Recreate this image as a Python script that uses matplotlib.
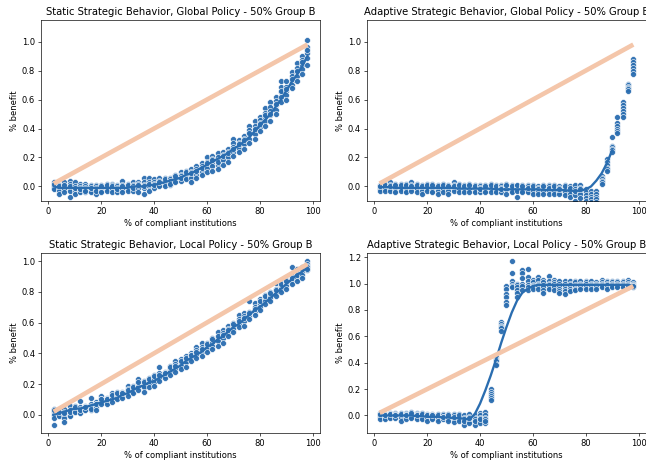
import numpy as np
import matplotlib.pyplot as plt

x_vals = list(range(2, 100, 2))

# diagonal reference line (equal benefit)
diag_x = [2, 98]
diag_y = [0.02, 0.98]

# --- Static, Global ---
sg_pts = [
    [0.03, 0.01, 0.0, -0.01, -0.02, 0.02], [0.01, -0.01, -0.02, -0.03, -0.05, 0.0],
    [0.03, 0.0, -0.01, -0.02, -0.04, 0.01], [0.04, 0.02, -0.01, -0.03, -0.07, 0.0],
    [0.03, 0.0, -0.02, -0.03, -0.05, -0.01], [0.02, 0.0, -0.01, -0.03, -0.04, -0.02],
    [0.02, 0.0, -0.01, -0.02, -0.04, -0.03], [0.01, 0.0, -0.02, -0.03, -0.04, -0.01],
    [0.01, 0.0, -0.01, -0.02, -0.05, -0.03], [0.01, -0.01, -0.02, -0.03, -0.04, 0.0],
    [0.02, 0.0, -0.01, -0.02, -0.03, 0.01], [0.02, 0.01, -0.01, -0.02, -0.04, 0.0],
    [0.01, 0.0, -0.01, -0.03, -0.04, -0.02], [0.04, 0.01, -0.01, -0.02, -0.04, 0.0],
    [0.02, 0.0, -0.01, -0.02, -0.03, 0.01], [0.03, 0.01, 0.0, -0.02, -0.03, -0.01],
    [0.03, 0.02, 0.0, -0.01, -0.04, 0.01], [0.06, 0.03, 0.01, -0.01, -0.05, 0.0],
    [0.06, 0.03, 0.01, 0.0, -0.03, 0.02], [0.05, 0.03, 0.02, 0.0, -0.01, 0.01],
    [0.06, 0.04, 0.02, 0.01, 0.0, 0.03], [0.06, 0.04, 0.03, 0.02, 0.0, 0.05],
    [0.06, 0.05, 0.03, 0.01, 0.04, 0.02], [0.08, 0.06, 0.05, 0.04, 0.03, 0.07],
    [0.1, 0.08, 0.07, 0.05, 0.04, 0.06], [0.11, 0.09, 0.08, 0.06, 0.05, 0.1],
    [0.12, 0.1, 0.08, 0.06, 0.03, 0.09], [0.14, 0.12, 0.1, 0.08, 0.06, 0.11],
    [0.16, 0.14, 0.12, 0.1, 0.08, 0.13], [0.2, 0.17, 0.15, 0.13, 0.1, 0.16],
    [0.21, 0.19, 0.16, 0.14, 0.11, 0.18], [0.23, 0.2, 0.18, 0.15, 0.12, 0.17],
    [0.24, 0.22, 0.2, 0.18, 0.15, 0.21], [0.26, 0.24, 0.22, 0.2, 0.17, 0.23],
    [0.33, 0.3, 0.27, 0.24, 0.21, 0.26], [0.32, 0.3, 0.28, 0.26, 0.24, 0.29],
    [0.35, 0.33, 0.31, 0.29, 0.26, 0.32], [0.42, 0.39, 0.36, 0.33, 0.3, 0.37],
    [0.45, 0.42, 0.39, 0.36, 0.33, 0.4], [0.48, 0.46, 0.44, 0.41, 0.38, 0.43],
    [0.54, 0.51, 0.48, 0.45, 0.42, 0.49], [0.58, 0.55, 0.52, 0.49, 0.45, 0.5],
    [0.62, 0.59, 0.56, 0.53, 0.5, 0.57], [0.73, 0.69, 0.65, 0.62, 0.58, 0.66],
    [0.73, 0.69, 0.66, 0.63, 0.6, 0.67], [0.79, 0.76, 0.73, 0.7, 0.68, 0.74],
    [0.85, 0.82, 0.79, 0.76, 0.73, 0.8], [0.9, 0.87, 0.84, 0.81, 0.78, 0.86],
    [1.01, 0.96, 0.92, 0.89, 0.84, 0.94],
]
sg_fit = [0.0, -0.01, -0.01, -0.01, -0.01, -0.01, -0.01, -0.01, -0.01, -0.01,
          -0.01, -0.01, -0.01, -0.01, -0.01, 0.0, 0.0, 0.0, 0.01, 0.01,
          0.02, 0.03, 0.04, 0.05, 0.06, 0.08, 0.09, 0.11, 0.13, 0.15,
          0.17, 0.19, 0.21, 0.23, 0.26, 0.28, 0.31, 0.34, 0.38, 0.42,
          0.46, 0.5, 0.55, 0.6, 0.66, 0.72, 0.77, 0.83, 0.9]

# --- Adaptive, Global ---
ag_pts = [
    [0.01, 0.0, -0.01, -0.02, -0.03, 0.0], [0.02, 0.0, -0.01, -0.02, -0.03, 0.01],
    [0.03, 0.01, -0.01, -0.02, -0.03, 0.0], [0.02, 0.0, -0.01, -0.03, -0.04, 0.01],
    [0.02, 0.0, -0.01, -0.02, -0.03, 0.01], [0.02, 0.0, -0.02, -0.03, -0.04, 0.01],
    [0.03, 0.01, -0.01, -0.02, -0.03, 0.0], [0.02, 0.0, -0.01, -0.02, -0.04, 0.01],
    [0.01, -0.01, -0.02, -0.03, -0.05, 0.0], [0.02, 0.0, -0.01, -0.02, -0.03, 0.01],
    [0.02, 0.0, -0.01, -0.03, -0.04, 0.01], [0.01, -0.01, -0.02, -0.03, -0.05, 0.0],
    [0.02, 0.0, -0.01, -0.02, -0.04, 0.01], [0.01, -0.01, -0.02, -0.03, -0.05, 0.0],
    [0.03, 0.01, -0.01, -0.02, -0.03, 0.0], [0.02, 0.0, -0.01, -0.02, -0.04, 0.01],
    [0.01, -0.01, -0.02, -0.03, -0.04, 0.0], [0.02, 0.0, -0.01, -0.02, -0.04, 0.01],
    [0.01, -0.01, -0.02, -0.03, -0.04, 0.0], [0.01, 0.0, -0.01, -0.03, -0.04, -0.02],
    [0.01, -0.01, -0.02, -0.03, -0.04, 0.0], [0.02, 0.0, -0.01, -0.02, -0.04, 0.01],
    [0.01, -0.01, -0.02, -0.03, -0.04, 0.0], [0.01, 0.0, -0.01, -0.03, -0.04, -0.02],
    [0.02, 0.0, -0.01, -0.02, -0.05, 0.01], [0.01, -0.01, -0.02, -0.03, -0.04, 0.0],
    [0.0, -0.01, -0.02, -0.03, -0.07, 0.01], [0.01, -0.01, -0.02, -0.03, -0.04, 0.0],
    [0.01, 0.0, -0.02, -0.03, -0.04, -0.01], [0.01, -0.01, -0.02, -0.03, -0.05, 0.0],
    [0.0, -0.01, -0.02, -0.03, -0.04, -0.05], [0.01, -0.01, -0.02, -0.03, -0.05, 0.0],
    [0.01, 0.0, -0.02, -0.03, -0.05, -0.01], [0.01, -0.01, -0.02, -0.04, -0.05, 0.0],
    [0.0, -0.01, -0.03, -0.04, -0.05, -0.02], [0.01, -0.01, -0.02, -0.04, -0.06, 0.0],
    [0.0, -0.02, -0.03, -0.05, -0.07, -0.01], [0.01, -0.02, -0.04, -0.06, -0.1, -0.03],
    [0.01, -0.01, -0.03, -0.05, -0.08, -0.02], [-0.02, -0.04, -0.06, -0.08, -0.1, -0.12],
    [-0.03, -0.05, -0.07, -0.09, -0.11, -0.13], [-0.03, -0.05, -0.07, -0.09, -0.11, -0.13],
    [0.07, 0.06, 0.05, 0.04, 0.03, 0.02], [0.19, 0.17, 0.15, 0.13, 0.12, 0.11],
    [0.34, 0.28, 0.27, 0.26, 0.25, 0.24], [0.48, 0.44, 0.42, 0.4, 0.38, 0.37],
    [0.58, 0.56, 0.54, 0.52, 0.5, 0.48], [0.71, 0.7, 0.69, 0.68, 0.67, 0.66],
    [0.88, 0.86, 0.84, 0.82, 0.8, 0.78],
]
ag_fit = [-0.005, -0.005, -0.005, -0.01, -0.01, -0.01, -0.01, -0.01, -0.01, -0.01,
          -0.01, -0.01, -0.01, -0.01, -0.01, -0.015, -0.015, -0.015, -0.015, -0.015,
          -0.015, -0.015, -0.02, -0.02, -0.02, -0.02, -0.02, -0.02, -0.02, -0.02,
          -0.02, -0.025, -0.025, -0.025, -0.025, -0.025, -0.03, -0.03, -0.03, -0.02,
          0.0, 0.04, 0.09, 0.16, 0.25, np.nan, np.nan, np.nan, np.nan]

# --- Static, Local ---
sl_pts = [
    [0.04, 0.02, 0.0, -0.02, -0.065, 0.03], [0.03, 0.02, 0.01, 0.0, -0.01, 0.02],
    [0.04, 0.02, 0.0, -0.02, -0.05, 0.01], [0.06, 0.03, 0.01, 0.0, -0.01, 0.02],
    [0.06, 0.04, 0.03, 0.02, 0.02, 0.05], [0.09, 0.05, 0.04, 0.02, 0.01, 0.03],
    [0.06, 0.05, 0.04, 0.03, 0.03, 0.05], [0.11, 0.07, 0.06, 0.05, 0.03, 0.04],
    [0.08, 0.07, 0.06, 0.05, 0.03, 0.07], [0.12, 0.1, 0.09, 0.08, 0.07, 0.1],
    [0.11, 0.1, 0.09, 0.08, 0.07, 0.1], [0.14, 0.12, 0.11, 0.1, 0.08, 0.13],
    [0.15, 0.13, 0.12, 0.11, 0.1, 0.14], [0.15, 0.14, 0.13, 0.12, 0.11, 0.14],
    [0.19, 0.17, 0.15, 0.14, 0.12, 0.16], [0.19, 0.17, 0.16, 0.15, 0.14, 0.18],
    [0.23, 0.2, 0.19, 0.18, 0.16, 0.21], [0.22, 0.2, 0.19, 0.18, 0.15, 0.21],
    [0.24, 0.22, 0.21, 0.2, 0.18, 0.23], [0.26, 0.24, 0.23, 0.21, 0.19, 0.25],
    [0.31, 0.27, 0.25, 0.24, 0.22, 0.26], [0.28, 0.27, 0.26, 0.25, 0.24, 0.27],
    [0.32, 0.3, 0.29, 0.28, 0.26, 0.31], [0.35, 0.33, 0.31, 0.3, 0.28, 0.32],
    [0.36, 0.34, 0.33, 0.32, 0.3, 0.35], [0.38, 0.36, 0.35, 0.34, 0.31, 0.37],
    [0.4, 0.39, 0.38, 0.37, 0.35, 0.39], [0.44, 0.42, 0.4, 0.39, 0.37, 0.41],
    [0.47, 0.44, 0.42, 0.41, 0.38, 0.43], [0.47, 0.45, 0.44, 0.43, 0.41, 0.46],
    [0.5, 0.48, 0.47, 0.45, 0.43, 0.49], [0.54, 0.5, 0.49, 0.48, 0.45, 0.51],
    [0.55, 0.53, 0.51, 0.5, 0.47, 0.52], [0.58, 0.56, 0.54, 0.53, 0.51, 0.55],
    [0.6, 0.58, 0.57, 0.56, 0.54, 0.59], [0.65, 0.62, 0.6, 0.59, 0.57, 0.61],
    [0.66, 0.64, 0.62, 0.61, 0.58, 0.63], [0.74, 0.67, 0.65, 0.64, 0.62, 0.66],
    [0.73, 0.7, 0.68, 0.67, 0.65, 0.69], [0.75, 0.73, 0.72, 0.7, 0.68, 0.74],
    [0.78, 0.76, 0.75, 0.74, 0.72, 0.77], [0.8, 0.78, 0.77, 0.76, 0.74, 0.79],
    [0.86, 0.82, 0.8, 0.79, 0.77, 0.81], [0.86, 0.84, 0.83, 0.82, 0.8, 0.85],
    [0.88, 0.86, 0.85, 0.84, 0.82, 0.87], [0.96, 0.9, 0.88, 0.87, 0.85, 0.89],
    [0.95, 0.92, 0.9, 0.89, 0.87, 0.91], [0.96, 0.94, 0.93, 0.91, 0.89, 0.95],
    [1.0, 0.98, 0.97, 0.96, 0.94, 0.95],
]
sl_fit = [0.0, 0.01, 0.02, 0.03, 0.04, 0.04, 0.05, 0.06, 0.07, 0.08,
          0.09, 0.1, 0.11, 0.13, 0.14, 0.16, 0.18, 0.19, 0.21, 0.22,
          0.24, 0.26, 0.28, 0.3, 0.32, 0.35, 0.37, 0.39, 0.41, 0.44,
          0.46, 0.49, 0.51, 0.54, 0.57, 0.59, 0.62, 0.65, 0.68, 0.7,
          0.73, 0.76, 0.79, 0.82, 0.85, 0.88, 0.91, 0.93, 0.96]

# --- Adaptive, Local ---
al_pts = [
    [0.02, 0.01, 0.0, -0.01, -0.03, 0.01], [0.01, 0.0, -0.01, -0.02, -0.03, 0.0],
    [0.02, 0.01, 0.0, -0.01, -0.02, 0.01], [0.02, 0.01, 0.0, -0.01, -0.02, 0.0],
    [0.02, 0.0, -0.01, -0.02, -0.04, 0.01], [0.02, 0.01, 0.0, -0.01, -0.03, 0.0],
    [0.03, 0.01, 0.0, -0.01, -0.02, 0.02], [0.02, 0.01, 0.0, -0.01, -0.03, 0.0],
    [0.02, 0.0, -0.01, -0.02, -0.03, 0.01], [0.01, 0.0, -0.01, -0.02, -0.04, 0.0],
    [0.01, 0.0, -0.01, -0.02, -0.03, 0.0], [0.01, -0.01, -0.02, -0.03, -0.04, 0.0],
    [0.01, 0.0, -0.01, -0.02, -0.03, -0.01], [0.01, -0.01, -0.02, -0.03, -0.04, 0.0],
    [0.01, 0.0, -0.02, -0.03, -0.05, -0.01], [0.01, -0.01, -0.02, -0.03, -0.04, 0.0],
    [0.0, -0.02, -0.03, -0.05, -0.07, -0.04], [0.01, -0.01, -0.03, -0.04, -0.06, -0.02],
    [0.0, -0.02, -0.03, -0.05, -0.07, -0.04], [0.02, 0.0, -0.02, -0.04, -0.06, -0.03],
    [0.03, 0.0, -0.02, -0.03, -0.06, -0.04], [0.2, 0.18, 0.16, 0.15, 0.13, 0.12],
    [0.44, 0.43, 0.42, 0.41, 0.39, 0.38], [0.71, 0.69, 0.68, 0.67, 0.66, 0.64],
    [0.98, 0.96, 0.92, 0.9, 0.86, 0.84], [1.17, 1.08, 1.02, 1.0, 0.98, 0.97],
    [1.0, 0.99, 0.97, 0.95, 0.93, 0.9], [1.1, 1.08, 1.04, 1.0, 0.98, 0.95],
    [1.11, 1.05, 1.02, 0.99, 0.97, 0.95], [1.03, 1.01, 0.99, 0.98, 0.97, 0.96],
    [1.05, 1.03, 1.0, 0.99, 0.98, 0.96], [1.03, 1.01, 0.99, 0.97, 0.95, 0.93],
    [1.06, 1.02, 1.0, 0.99, 0.97, 0.96], [1.03, 1.01, 1.0, 0.98, 0.97, 0.95],
    [1.02, 1.0, 0.98, 0.96, 0.94, 0.93], [1.02, 1.0, 0.98, 0.96, 0.94, 0.92],
    [1.02, 1.0, 0.99, 0.97, 0.96, 0.94], [1.02, 1.01, 0.99, 0.98, 0.96, 0.95],
    [1.02, 1.0, 0.99, 0.98, 0.97, 0.96], [1.02, 1.01, 1.0, 0.98, 0.97, 0.96],
    [1.02, 1.0, 0.99, 0.98, 0.97, 0.96], [1.01, 1.0, 0.99, 0.98, 0.97, 0.96],
    [1.03, 1.01, 1.0, 0.99, 0.98, 0.97], [1.02, 1.01, 1.0, 0.99, 0.97, 0.96],
    [1.02, 1.01, 1.0, 0.99, 0.98, 0.97], [1.02, 1.01, 1.0, 0.99, 0.98, 0.97],
    [1.02, 1.01, 1.0, 0.99, 0.98, 0.97], [1.03, 1.01, 1.0, 0.99, 0.98, 0.97],
    [1.01, 1.0, 0.99, 0.98, 0.97, 0.98],
]
al_fit = [0.0, 0.0, 0.0, 0.0, 0.0, 0.0, 0.0, -0.005, -0.005, -0.01,
          -0.01, -0.01, -0.015, -0.015, -0.02, -0.02, -0.025, -0.03, 0.01, 0.09,
          0.19, 0.3, 0.42, 0.55, 0.67, 0.78, 0.87, 0.93, 0.96, 0.98,
          0.99, 0.99, 0.99, 0.99, 0.99, 0.99, 0.99, 0.99, 0.99, 0.99,
          0.99, 0.99, 0.99, 0.99, 0.99, 0.99, 0.99, 0.99, 0.98]

panels = [
    ('Static Strategic Behavior, Global Policy - 50% Group B', sg_pts, sg_fit, (-0.1, 1.15)),
    ('Adaptive Strategic Behavior, Global Policy - 50% Group B', ag_pts, ag_fit, (-0.1, 1.15)),
    ('Static Strategic Behavior, Local Policy - 50% Group B', sl_pts, sl_fit, None),
    ('Adaptive Strategic Behavior, Local Policy - 50% Group B', al_pts, al_fit, None),
]
rects = [
    [0.0635, 0.567, 0.432, 0.390],
    [0.568, 0.567, 0.432, 0.390],
    [0.0635, 0.067, 0.432, 0.388],
    [0.568, 0.067, 0.432, 0.388],
]

blue = '#2a6db0'
fig = plt.figure(figsize=(646 / 60, 464 / 60), dpi=60)
for (title, pts, fit, ylim), rect in zip(panels, rects):
    ax = fig.add_axes(rect)
    pts = np.array(pts)
    xs = np.repeat(x_vals, pts.shape[1])
    ax.scatter(xs, pts.ravel(), s=50, color=blue, edgecolor='white', linewidth=0.75, alpha=0.95, zorder=2)
    ax.plot(x_vals, fit, color=blue, lw=2.8, zorder=3)
    ax.plot(diag_x, diag_y, color='#f4c6aa', lw=5.5, solid_capstyle='butt', zorder=4)
    if ylim:
        ax.set_ylim(*ylim)
    ax.set_title(title)
    ax.set_xlabel('% of compliant institutions')
    ax.set_ylabel('% benefit')

plt.savefig('out.png', dpi=60)
